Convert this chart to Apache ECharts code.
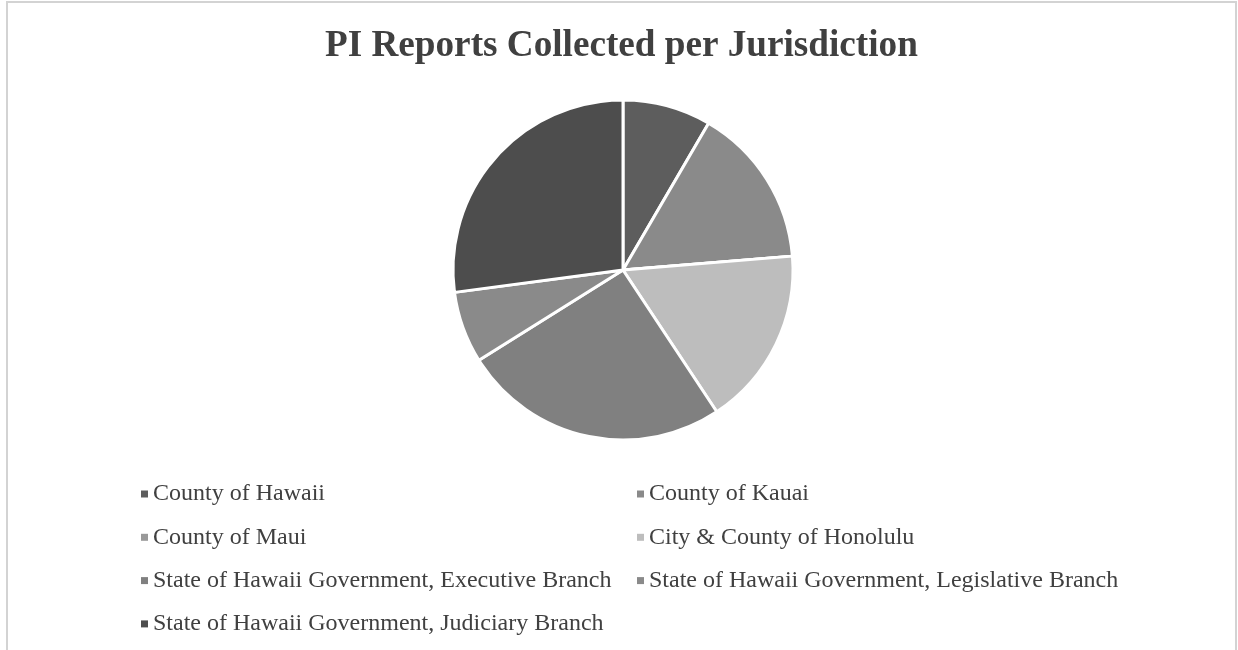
<!DOCTYPE html>
<html>
<head>
<meta charset="utf-8">
<script src="https://cdn.jsdelivr.net/npm/echarts@6/dist/echarts.min.js"></script>
<style>
html,body{margin:0;padding:0;background:#fff;}
#chart{width:1238px;height:650px;}
</style>
</head>
<body>
<div id="chart"></div>
<script>
const titleText = 'PI Reports Collected per Jurisdiction';
const categories = [
  'County of Hawaii',
  'County of Kauai',
  'County of Maui',
  'City & County of Honolulu',
  'State of Hawaii Government, Executive Branch',
  'State of Hawaii Government, Legislative Branch',
  'State of Hawaii Government, Judiciary Branch'
];
const values = [8.4, 15.3, 0, 17.0, 25.4, 6.8, 27.1];
const colors = ['#5d5d5d', '#8a8a8a', '#999999', '#bdbdbd', '#808080', '#8a8a8a', '#4d4d4d'];
const leftLegend = [categories[0], categories[2], categories[4], categories[6]];
const rightLegend = [categories[1], categories[3], categories[5]];

const chart = echarts.init(document.getElementById('chart'));
const font = 'Liberation Serif';
const legendBase = {
  orient: 'vertical',
  top: 482,
  padding: 0,
  icon: 'rect',
  itemWidth: 7,
  itemHeight: 7,
  itemGap: 19.3,
  selectedMode: false,
  itemStyle: {borderWidth: 0},
  textStyle: {fontFamily: font, fontSize: 24, color: '#404040', lineHeight: 24}
};
chart.setOption({
  backgroundColor: '#ffffff',
  animation: false,
  title: {
    text: titleText,
    left: 325,
    top: 28,
    padding: 0,
    textStyle: {fontFamily: font, fontSize: 37.2, fontWeight: 'bold', color: '#404040'}
  },
  graphic: [{
    type: 'rect',
    shape: {x: 7, y: 2, width: 1229, height: 700},
    style: {fill: 'none', stroke: '#d3d3d3', lineWidth: 2},
    silent: true
  }],
  legend: [
    Object.assign({}, legendBase, {left: 141, data: leftLegend}),
    Object.assign({}, legendBase, {left: 637, data: rightLegend})
  ],
  series: [{
    type: 'pie',
    center: [623, 270],
    radius: [0, 170],
    startAngle: 90,
    clockwise: true,
    label: {show: false},
    labelLine: {show: false},
    emphasis: {disabled: true},
    itemStyle: {borderColor: '#ffffff', borderWidth: 3},
    data: categories.map((c, i) => ({name: c, value: values[i], itemStyle: {color: colors[i]}}))
  }]
});
</script>
</body>
</html>
